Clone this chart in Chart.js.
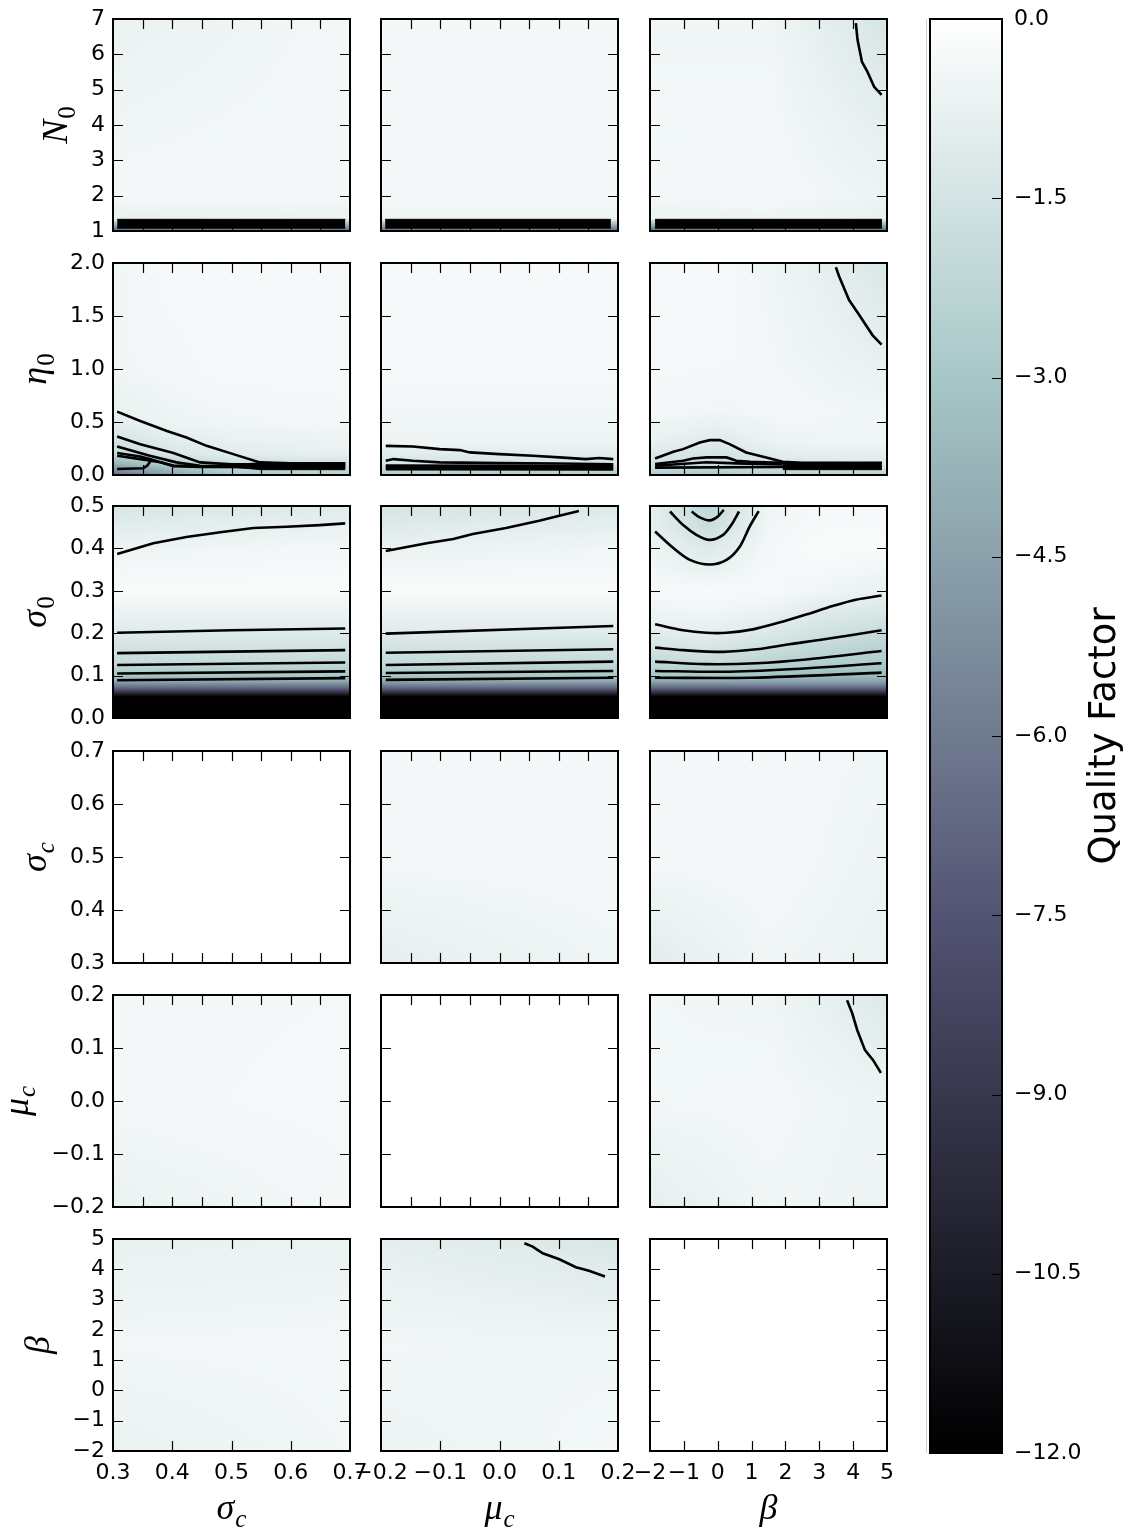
<!DOCTYPE html>
<html>
<head>
<meta charset="utf-8">
<script src="https://cdn.jsdelivr.net/npm/chart.js@4.4.1/dist/chart.umd.min.js"></script>
<style>
  body { margin: 0; background: #fff; overflow: hidden; }
  #fig { position: relative; width: 1132px; height: 1530px; }
  #fig canvas { position: absolute; }
</style>
</head>
<body>
<div id="fig"></div>
<script>
// ---- axis ranges and tick values ----
const sigmaCTicks = [0.3, 0.4, 0.5, 0.6, 0.7];
const sigmaCTicksFine = [0.3, 0.35, 0.4, 0.45, 0.5, 0.55, 0.6, 0.65, 0.7];
const muCTicks = [-0.2, -0.1, 0, 0.1, 0.2];
const muCTicksFine = [-0.2, -0.15, -0.1, -0.05, 0, 0.05, 0.1, 0.15, 0.2];
const betaTicks = [-2, -1, 0, 1, 2, 3, 4, 5];
const n0Ticks = [1, 2, 3, 4, 5, 6, 7];
const eta0Ticks = [0, 0.5, 1, 1.5, 2];
const sigma0Ticks = [0, 0.1, 0.2, 0.3, 0.4, 0.5];
const cbTicks = [0, -1.5, -3, -4.5, -6, -7.5, -9, -10.5, -12];

// ---- quality factor fields (ys ascending, z rows follow ys) ----
const bgN0SigmaC = { xs: [0.3, 0.7], ys: [1, 1.05, 1.35, 2, 7],
  z: [[-5, -5], [-6, -6], [-0.8, -0.7], [-0.4, -0.35], [-0.7, -0.4]] };
const bgN0MuC = { xs: [-0.2, 0.2], ys: [1, 1.05, 1.35, 2, 7],
  z: [[-5, -5], [-6, -6], [-0.6, -0.6], [-0.35, -0.35], [-0.4, -0.4]] };
const bgN0Beta = { xs: [-2, 1.5, 5], ys: [1, 1.05, 1.35, 2, 4, 7],
  z: [[-5, -5, -5], [-6, -6, -6], [-0.7, -0.6, -0.8], [-0.4, -0.35, -0.6], [-0.4, -0.4, -0.9], [-0.5, -0.5, -1.4]] };

const bgEta0SigmaC = { xs: [0.3, 0.4, 0.5, 0.7], ys: [0, 0.1, 0.2, 0.5, 1, 2],
  z: [[-6.5, -4.5, -3, -2.5], [-4, -2.5, -1.8, -1.6], [-2, -1.3, -1, -0.8],
      [-0.9, -0.6, -0.5, -0.4], [-0.5, -0.4, -0.3, -0.3], [-0.5, -0.3, -0.3, -0.3]] };
const bgEta0MuC = { xs: [-0.2, 0.2], ys: [0, 0.1, 0.3, 1, 2],
  z: [[-2.8, -2.8], [-1.5, -1.4], [-0.6, -0.6], [-0.3, -0.3], [-0.35, -0.3]] };
const bgEta0Beta = { xs: [-2, 0, 2, 5], ys: [0, 0.1, 0.3, 0.6, 1.2, 2],
  z: [[-2.8, -2.8, -2.4, -2.4], [-1.6, -1.9, -1.3, -1.2], [-0.8, -1.1, -0.6, -0.5],
      [-0.4, -0.5, -0.4, -0.5], [-0.3, -0.3, -0.5, -0.9], [-0.3, -0.3, -0.6, -1.3]] };

const sigma0Levels = [0, 0.05, 0.07, 0.085, 0.1, 0.13, 0.2, 0.3, 0.4, 0.5];
const bgSigma0SigmaC = { xs: [0.3, 0.7], ys: sigma0Levels,
  z: [[-12, -12], [-12, -12], [-7, -7], [-4.5, -4.5], [-3, -3], [-2, -2], [-1.1, -1.1], [-0.2, -0.2], [-0.6, -0.4], [-1.4, -1.1]] };
const bgSigma0MuC = { xs: [-0.2, 0.2], ys: sigma0Levels,
  z: [[-12, -12], [-12, -12], [-7, -7], [-4.5, -4.5], [-3, -3], [-2, -2], [-1.1, -1.1], [-0.2, -0.2], [-0.7, -0.5], [-1.5, -1.2]] };
const bgSigma0Beta = { xs: [-2, -0.3, 1.5, 3, 5],
  ys: [0, 0.05, 0.07, 0.085, 0.1, 0.13, 0.2, 0.25, 0.3, 0.4, 0.45, 0.5],
  z: [[-12, -12, -12, -12, -12], [-12, -12, -12, -12, -12], [-7, -7, -7, -7, -7],
      [-4.5, -4.5, -4.5, -4.5, -4.5], [-3, -3, -3.2, -3.4, -3.5], [-2, -2, -2.3, -2.6, -2.8],
      [-1, -0.9, -1.2, -1.6, -2], [-0.6, -0.5, -0.7, -1.1, -1.3], [-0.3, -0.3, -0.3, -0.5, -0.8],
      [-0.6, -1.2, -0.4, -0.2, -0.2], [-0.8, -1.8, -0.5, -0.3, -0.3], [-0.9, -2.2, -0.6, -0.3, -0.3]] };

const bgSigmaCSigmaC = { xs: [0.3, 0.7], ys: [0.3, 0.7], z: [[0, 0], [0, 0]] };
const bgSigmaCMuC = { xs: [-0.2, 0.2], ys: [0.3, 0.5, 0.7], z: [[-0.9, -0.5], [-0.4, -0.35], [-0.35, -0.4]] };
const bgSigmaCBeta = { xs: [-2, 1.5, 5], ys: [0.3, 0.5, 0.7], z: [[-1, -0.5, -0.7], [-0.4, -0.35, -0.6], [-0.4, -0.35, -0.5]] };

const bgMuCSigmaC = { xs: [0.3, 0.7], ys: [-0.2, 0, 0.2], z: [[-0.7, -0.4], [-0.4, -0.3], [-0.4, -0.35]] };
const bgMuCMuC = { xs: [-0.2, 0.2], ys: [-0.2, 0.2], z: [[0, 0], [0, 0]] };
const bgMuCBeta = { xs: [-2, 1.5, 5], ys: [-0.2, 0, 0.2], z: [[-0.9, -0.5, -0.6], [-0.45, -0.4, -0.6], [-0.45, -0.5, -1.2]] };

const bgBetaSigmaC = { xs: [0.3, 0.7], ys: [-2, 1.5, 5], z: [[-0.7, -0.45], [-0.45, -0.4], [-0.8, -0.7]] };
const bgBetaMuC = { xs: [-0.2, 0.2], ys: [-2, 1.5, 5], z: [[-0.6, -0.4], [-0.45, -0.5], [-0.9, -1.3]] };
const bgBetaBeta = { xs: [-2, 5], ys: [-2, 5], z: [[0, 0], [0, 0]] };

// ---- contour lines, [x, y] pairs ----
const n0BetaLines = [
  [[4.08, 6.88], [4.13, 6.41], [4.26, 5.79], [4.42, 5.51], [4.62, 5.08], [4.84, 4.85]]
];
const eta0SigmaCLines = [
  [[0.307, 0.598], [0.346, 0.51], [0.391, 0.416], [0.424, 0.354], [0.458, 0.275], [0.503, 0.197], [0.548, 0.119], [0.6, 0.11], [0.692, 0.11]],
  [[0.307, 0.363], [0.346, 0.291], [0.402, 0.207], [0.447, 0.119], [0.5, 0.1], [0.692, 0.1]],
  [[0.307, 0.27], [0.362, 0.181], [0.407, 0.119], [0.447, 0.087], [0.692, 0.085]],
  [[0.307, 0.207], [0.346, 0.175], [0.362, 0.15], [0.402, 0.082], [0.447, 0.075], [0.692, 0.072]],
  [[0.307, 0.181], [0.346, 0.15], [0.38, 0.12], [0.402, 0.09], [0.447, 0.08]],
  [[0.307, 0.056], [0.351, 0.063], [0.358, 0.09], [0.365, 0.143]]
];
const eta0MuCLines = [
  [[-0.192, 0.275], [-0.146, 0.269], [-0.101, 0.244], [-0.067, 0.235], [-0.05, 0.213], [0, 0.197], [0.056, 0.181], [0.101, 0.166], [0.146, 0.15], [0.168, 0.16], [0.192, 0.15]],
  [[-0.192, 0.134], [-0.179, 0.15], [-0.146, 0.134], [-0.101, 0.119], [0, 0.112], [0.1, 0.108], [0.192, 0.102]],
  [[-0.192, 0.09], [0.192, 0.085]],
  [[-0.192, 0.072], [0.192, 0.068]],
  [[-0.192, 0.055], [0.192, 0.052]]
];
const eta0BetaLines = [
  [[3.49, 1.96], [3.59, 1.87], [3.88, 1.65], [4.18, 1.51], [4.57, 1.32], [4.84, 1.23]],
  [[-1.85, 0.156], [-1.31, 0.219], [-1.02, 0.244], [-0.53, 0.307], [-0.235, 0.329], [0.06, 0.329], [0.35, 0.291], [0.84, 0.213], [1.43, 0.166], [1.92, 0.125], [2.5, 0.115], [4.85, 0.115]],
  [[-1.85, 0.103], [-1.02, 0.134], [-0.73, 0.156], [-0.33, 0.166], [0.26, 0.166], [0.55, 0.134], [0.96, 0.125], [1.92, 0.115]],
  [[-1.85, 0.087], [-0.33, 0.12], [0.55, 0.11], [1.92, 0.1]],
  [[-1.85, 0.07], [1.92, 0.075], [4.85, 0.075]]
];
const sigma0SigmaCLines = [
  [[0.307, 0.387], [0.368, 0.412], [0.424, 0.427], [0.481, 0.438], [0.537, 0.448], [0.593, 0.451], [0.649, 0.455], [0.692, 0.459]],
  [[0.307, 0.201], [0.5, 0.207], [0.692, 0.211]],
  [[0.307, 0.153], [0.692, 0.16]],
  [[0.307, 0.125], [0.692, 0.131]],
  [[0.307, 0.105], [0.692, 0.11]],
  [[0.307, 0.089], [0.692, 0.094]]
];
const sigma0MuCLines = [
  [[-0.192, 0.394], [-0.123, 0.412], [-0.078, 0.422], [-0.045, 0.434], [0.011, 0.448], [0.067, 0.465], [0.101, 0.477], [0.134, 0.488]],
  [[-0.192, 0.199], [0.192, 0.217]],
  [[-0.192, 0.154], [0.192, 0.162]],
  [[-0.192, 0.125], [0.192, 0.133]],
  [[-0.192, 0.106], [0.192, 0.111]],
  [[-0.192, 0.09], [0.192, 0.095]]
];
const sigma0BetaLines = [
  [[-0.77, 0.487], [-0.53, 0.473], [-0.24, 0.466], [0, 0.475], [0.18, 0.491]],
  [[-1.41, 0.487], [-1.02, 0.455], [-0.63, 0.432], [-0.24, 0.42], [0.16, 0.432], [0.4, 0.455], [0.63, 0.487]],
  [[-1.85, 0.44], [-1.31, 0.401], [-0.82, 0.373], [-0.24, 0.362], [0.26, 0.373], [0.65, 0.404], [0.94, 0.451], [1.21, 0.488]],
  [[-1.85, 0.221], [-1.02, 0.207], [-0.33, 0.201], [0.26, 0.201], [1.04, 0.209], [1.82, 0.225], [2.61, 0.244], [3.39, 0.264], [4.08, 0.279], [4.84, 0.289]],
  [[-1.85, 0.166], [-1.02, 0.16], [0.16, 0.156], [1.14, 0.162], [2.12, 0.174], [3.1, 0.185], [4.84, 0.207]],
  [[-1.85, 0.133], [-0.33, 0.127], [1.14, 0.129], [2.61, 0.138], [4.84, 0.158]],
  [[-1.85, 0.111], [0.16, 0.109], [2.12, 0.115], [4.84, 0.129]],
  [[-1.85, 0.095], [1.0, 0.095], [4.84, 0.107]]
];
const muCBetaLines = [
  [[3.82, 0.19], [3.97, 0.166], [4.12, 0.134], [4.35, 0.096], [4.59, 0.077], [4.82, 0.053]]
];
const betaMuCLines = [
  [[0.042, 4.86], [0.056, 4.75], [0.073, 4.53], [0.101, 4.33], [0.129, 4.07], [0.151, 3.95], [0.178, 3.76]]
];

// ---- saturated (packed contour) bands: upper and lower edges ----
const n0SigmaCBand = { top: [[0.307, 1.33], [0.692, 1.33]], bottom: [[0.307, 1.08], [0.692, 1.08]] };
const n0MuCBand = { top: [[-0.193, 1.33], [0.188, 1.33]], bottom: [[-0.193, 1.08], [0.188, 1.08]] };
const n0BetaBand = { top: [[-1.85, 1.33], [4.85, 1.33]], bottom: [[-1.85, 1.08], [4.85, 1.08]] };
const eta0SigmaCBand = { top: [[0.5, 0.1], [0.55, 0.115], [0.692, 0.115]], bottom: [[0.5, 0.075], [0.55, 0.05], [0.692, 0.05]] };
const eta0BetaBand = { top: [[1.92, 0.118], [4.85, 0.118]], bottom: [[1.92, 0.05], [4.85, 0.05]] };

// ---- layout ----
const rowTops = [19, 263, 506, 751, 995, 1239];
const colLefts = [113, 381, 650];
const PW = 237, PH = 212;
const ML = 113, MT = 19, MR = 30, MB = 80;
const TICK_FONT = { family: 'DejaVu Sans', size: 22 };
const MATH_SIZE = 36;

const sigmaCAxis = { min: 0.3, max: 0.7, ticks: sigmaCTicks, fine: sigmaCTicksFine, dec: 1, label: { base: 'σ', sub: 'c', subItalic: true } };
const muCAxis = { min: -0.2, max: 0.2, ticks: muCTicks, fine: muCTicksFine, dec: 1, label: { base: 'μ', sub: 'c', subItalic: true } };
const betaAxis = { min: -2, max: 5, ticks: betaTicks, fine: betaTicks, dec: 0, label: { base: 'β', sub: '' } };
const n0Axis = { min: 1, max: 7, ticks: n0Ticks, fine: n0Ticks, dec: 0, label: { base: 'N', sub: '0' } };
const eta0Axis = { min: 0, max: 2, ticks: eta0Ticks, fine: eta0Ticks, dec: 1, label: { base: 'η', sub: '0' } };
const sigma0Axis = { min: 0, max: 0.5, ticks: sigma0Ticks, fine: sigma0Ticks, dec: 1, label: { base: 'σ', sub: '0' } };

const rowAxes = [n0Axis, eta0Axis, sigma0Axis, sigmaCAxis, muCAxis, betaAxis];
const colAxes = [sigmaCAxis, muCAxis, betaAxis];

const fields = [
  [bgN0SigmaC, bgN0MuC, bgN0Beta],
  [bgEta0SigmaC, bgEta0MuC, bgEta0Beta],
  [bgSigma0SigmaC, bgSigma0MuC, bgSigma0Beta],
  [bgSigmaCSigmaC, bgSigmaCMuC, bgSigmaCBeta],
  [bgMuCSigmaC, bgMuCMuC, bgMuCBeta],
  [bgBetaSigmaC, bgBetaMuC, bgBetaBeta]
];
const contours = [
  [[], [], n0BetaLines],
  [eta0SigmaCLines, eta0MuCLines, eta0BetaLines],
  [sigma0SigmaCLines, sigma0MuCLines, sigma0BetaLines],
  [[], [], []],
  [[], [], muCBetaLines],
  [[], betaMuCLines, []]
];
const bands = [
  [n0SigmaCBand, n0MuCBand, n0BetaBand],
  [eta0SigmaCBand, null, eta0BetaBand],
  [null, null, null],
  [null, null, null],
  [null, null, null],
  [null, null, null]
];

// matplotlib "bone" colormap segments
const boneStops = [
  [0, 0, 0, 0],
  [0.365079, 0.319444, 0.319444, 0.444444],
  [0.746032, 0.652778, 0.777778, 0.777778],
  [1, 1, 1, 1]
];

function bone(v) {
  const t = Math.min(1, Math.max(0, (v + 12) / 12));
  let i = 0;
  while (i < boneStops.length - 2 && t > boneStops[i + 1][0]) i++;
  const a = boneStops[i], b = boneStops[i + 1];
  const f = (t - a[0]) / (b[0] - a[0]);
  return [1, 2, 3].map(k => Math.round(255 * (a[k] + (b[k] - a[k]) * f)));
}

function fmt(v, dec) {
  return v.toFixed(dec).replace('-', '\u2212');
}

function bracket(arr, v) {
  const n = arr.length - 1;
  if (v <= arr[0]) return [0, 0, 0];
  if (v >= arr[n]) return [n, n, 0];
  let i = 0;
  while (arr[i + 1] < v) i++;
  return [i, i + 1, (v - arr[i]) / (arr[i + 1] - arr[i])];
}

function sampleField(g, xv, yv) {
  const [x0, x1, fx] = bracket(g.xs, xv);
  const [y0, y1, fy] = bracket(g.ys, yv);
  const lo = g.z[y0][x0] * (1 - fx) + g.z[y0][x1] * fx;
  const hi = g.z[y1][x0] * (1 - fx) + g.z[y1][x1] * fx;
  return lo * (1 - fy) + hi * fy;
}

function drawMath(ctx, label, x, y, rotate) {
  ctx.save();
  ctx.translate(x, y);
  if (rotate) ctx.rotate(-Math.PI / 2);
  const baseFont = `italic ${MATH_SIZE}px "Liberation Serif"`;
  const subFont = `${label.subItalic ? 'italic ' : ''}${Math.round(MATH_SIZE * 0.7)}px "Liberation Serif"`;
  ctx.font = baseFont;
  const wb = ctx.measureText(label.base).width;
  ctx.font = subFont;
  const ws = label.sub ? ctx.measureText(label.sub).width + 1 : 0;
  const start = -(wb + ws) / 2;
  ctx.fillStyle = '#000';
  ctx.textAlign = 'left';
  ctx.textBaseline = 'alphabetic';
  ctx.font = baseFont;
  ctx.fillText(label.base, start, 0);
  if (label.sub) {
    ctx.font = subFont;
    ctx.fillText(label.sub, start + wb + 1, MATH_SIZE * 0.22);
  }
  ctx.restore();
}

const fig = document.getElementById('fig');

function makeCanvas(left, top, w, h) {
  const c = document.createElement('canvas');
  c.width = w; c.height = h;
  c.style.left = left + 'px';
  c.style.top = top + 'px';
  c.style.width = w + 'px';
  c.style.height = h + 'px';
  fig.appendChild(c);
  return c;
}

function lineDataset(pts, extra) {
  return Object.assign({
    data: pts.map(([x, y]) => ({ x, y })),
    borderColor: '#000',
    borderWidth: 2.6,
    pointRadius: 0,
    fill: false,
    tension: 0
  }, extra || {});
}

function buildPanel(r, c) {
  const xa = colAxes[c], ya = rowAxes[r];
  const bottomRow = r === rowAxes.length - 1;
  const leftCol = c === 0;
  const xTickVals = bottomRow ? xa.ticks : xa.fine;
  const field = fields[r][c];

  const datasets = [];
  const band = bands[r][c];
  if (band) {
    datasets.push(lineDataset(band.top, { fill: '+1', backgroundColor: '#000', borderWidth: 1 }));
    datasets.push(lineDataset(band.bottom, { borderWidth: 1 }));
  }
  const smooth = (r === 2 && c === 2) ? 0.3 : 0;
  contours[r][c].forEach(pts => datasets.push(lineDataset(pts, { tension: smooth })));

  const canvas = makeCanvas(colLefts[c] - ML, rowTops[r] - MT, ML + PW + MR, MT + PH + MB);

  const panelPlugin = {
    id: 'panel',
    beforeDatasetsDraw(chart) {
      const { ctx, chartArea: a, scales: { x, y } } = chart;
      const left = Math.round(a.left), top = Math.round(a.top);
      const w = Math.round(a.right) - left, h = Math.round(a.bottom) - top;
      const img = ctx.createImageData(w, h);
      for (let j = 0; j < h; j++) {
        const yv = y.getValueForPixel(top + j + 0.5);
        for (let i = 0; i < w; i++) {
          const col = bone(sampleField(field, x.getValueForPixel(left + i + 0.5), yv));
          const k = (j * w + i) * 4;
          img.data[k] = col[0];
          img.data[k + 1] = col[1];
          img.data[k + 2] = col[2];
          img.data[k + 3] = 255;
        }
      }
      ctx.putImageData(img, left, top);
    },
    afterDraw(chart) {
      const { ctx, chartArea: a, scales: { x, y } } = chart;
      ctx.save();
      ctx.strokeStyle = '#000';
      ctx.lineWidth = 1.2;
      ctx.beginPath();
      x.ticks.forEach(t => {
        if (t.value <= x.min || t.value >= x.max) return;
        const px = Math.round(x.getPixelForValue(t.value)) + 0.5;
        ctx.moveTo(px, a.bottom); ctx.lineTo(px, a.bottom - 10);
        ctx.moveTo(px, a.top); ctx.lineTo(px, a.top + 10);
      });
      y.ticks.forEach(t => {
        if (t.value <= y.min || t.value >= y.max) return;
        const py = Math.round(y.getPixelForValue(t.value)) + 0.5;
        ctx.moveTo(a.left, py); ctx.lineTo(a.left + 10, py);
        ctx.moveTo(a.right, py); ctx.lineTo(a.right - 10, py);
      });
      ctx.stroke();
      ctx.lineWidth = 2;
      ctx.strokeRect(a.left, a.top, a.right - a.left, a.bottom - a.top);

      if (leftCol) {
        ctx.font = `${TICK_FONT.size}px "${TICK_FONT.family}"`;
        let maxW = 0;
        y.ticks.forEach(t => { maxW = Math.max(maxW, ctx.measureText(fmt(t.value, ya.dec)).width); });
        const tickLeft = a.left - 8 - maxW;
        drawMath(ctx, ya.label, tickLeft - 24, (a.top + a.bottom) / 2, true);
      }
      if (bottomRow) {
        drawMath(ctx, xa.label, (a.left + a.right) / 2, a.bottom + 68, false);
      }
      ctx.restore();
    }
  };

  new Chart(canvas, {
    type: 'line',
    data: { datasets },
    options: {
      responsive: false,
      animation: false,
      events: [],
      layout: { padding: { left: 0, top: MT, right: MR, bottom: 0 } },
      plugins: { legend: { display: false }, tooltip: { enabled: false } },
      scales: {
        x: {
          type: 'linear', min: xa.min, max: xa.max,
          afterBuildTicks: s => { s.ticks = xTickVals.map(v => ({ value: v })); },
          afterFit: s => { s.height = MB; s.paddingLeft = 0; s.paddingRight = 0; },
          grid: { display: false, drawTicks: false },
          border: { display: false },
          ticks: {
            display: bottomRow, font: TICK_FONT, color: '#000', padding: 9,
            autoSkip: false, maxRotation: 0, minRotation: 0,
            callback: v => fmt(v, xa.dec)
          }
        },
        y: {
          type: 'linear', min: ya.min, max: ya.max,
          afterBuildTicks: s => { s.ticks = ya.ticks.map(v => ({ value: v })); },
          afterFit: s => { s.width = ML; s.paddingTop = 0; s.paddingBottom = 0; },
          grid: { display: false, drawTicks: false },
          border: { display: false },
          ticks: {
            display: leftCol, font: TICK_FONT, color: '#000', padding: 8,
            autoSkip: false, callback: v => fmt(v, ya.dec)
          }
        }
      }
    },
    plugins: [panelPlugin]
  });
}

function buildColorbar() {
  const canvas = makeCanvas(900, 0, 232, 1530);
  const cbPlugin = {
    id: 'colorbar',
    beforeDatasetsDraw(chart) {
      const { ctx, chartArea: a, scales: { y } } = chart;
      const g = ctx.createLinearGradient(0, y.getPixelForValue(-12), 0, y.getPixelForValue(0));
      boneStops.forEach(s => g.addColorStop(s[0], `rgb(${Math.round(s[1] * 255)},${Math.round(s[2] * 255)},${Math.round(s[3] * 255)})`));
      ctx.fillStyle = g;
      ctx.fillRect(a.left, a.top, a.right - a.left, a.bottom - a.top);
    },
    afterDraw(chart) {
      const { ctx, chartArea: a, scales: { y } } = chart;
      ctx.save();
      ctx.strokeStyle = '#ccc';
      ctx.lineWidth = 1;
      ctx.beginPath();
      ctx.moveTo(a.left - 3.5, a.top); ctx.lineTo(a.left - 3.5, a.bottom);
      ctx.stroke();
      ctx.strokeStyle = '#000';
      ctx.lineWidth = 1.2;
      ctx.beginPath();
      y.ticks.forEach(t => {
        if (t.value <= y.min || t.value >= y.max) return;
        const py = Math.round(y.getPixelForValue(t.value)) + 0.5;
        ctx.moveTo(a.right, py); ctx.lineTo(a.right - 10, py);
      });
      ctx.stroke();
      ctx.lineWidth = 2;
      ctx.strokeRect(a.left, a.top, a.right - a.left, a.bottom - a.top);
      ctx.translate(215, (a.top + a.bottom) / 2);
      ctx.rotate(-Math.PI / 2);
      ctx.fillStyle = '#000';
      ctx.font = '37px "DejaVu Sans"';
      ctx.textAlign = 'center';
      ctx.textBaseline = 'alphabetic';
      ctx.fillText('Quality Factor', 0, 0);
      ctx.restore();
    }
  };
  new Chart(canvas, {
    type: 'line',
    data: { datasets: [] },
    options: {
      responsive: false,
      animation: false,
      events: [],
      layout: { padding: { left: 30, top: 19, right: 0, bottom: 77 } },
      plugins: { legend: { display: false }, tooltip: { enabled: false } },
      scales: {
        x: { type: 'linear', display: false, min: 0, max: 1 },
        y: {
          type: 'linear', position: 'right', min: -12, max: 0,
          afterBuildTicks: s => { s.ticks = cbTicks.map(v => ({ value: v })); },
          afterFit: s => { s.width = 130; s.paddingTop = 0; s.paddingBottom = 0; },
          grid: { display: false, drawTicks: false },
          border: { display: false },
          ticks: { font: TICK_FONT, color: '#000', padding: 12, autoSkip: false, callback: v => fmt(v, 1) }
        }
      }
    },
    plugins: [cbPlugin]
  });
}

for (let r = 0; r < rowAxes.length; r++) {
  for (let c = 0; c < colAxes.length; c++) buildPanel(r, c);
}
buildColorbar();
</script>
</body>
</html>
